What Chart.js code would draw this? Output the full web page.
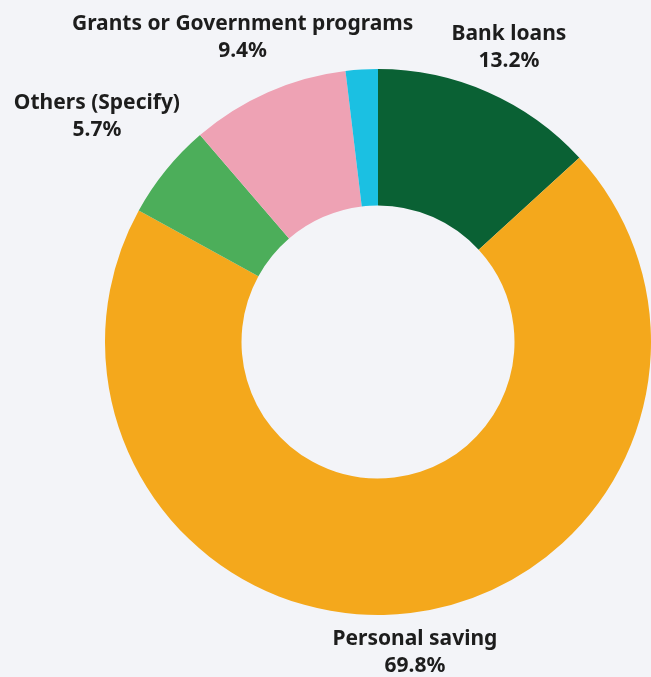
<!DOCTYPE html>
<html>
<head>
<meta charset="utf-8">
<title>Funding sources</title>
<script src="https://cdn.jsdelivr.net/npm/chart.js@4.4.1/dist/chart.umd.min.js"></script>
<style>
  html, body { margin: 0; padding: 0; background: #f3f4f8; }
  #wrap { width: 651px; height: 677px; }
</style>
</head>
<body>
<div id="wrap"><canvas id="fundingChart" width="651" height="677"></canvas></div>
<script>
// funding sources, percent of respondents (clockwise from 12 o'clock)
const sources = ['Bank loans', 'Personal saving', 'Others (Specify)', 'Grants or Government programs', ''];
const shares = [13.2, 69.8, 5.7, 9.4, 1.9];
const sliceColors = ['#0a6134', '#f4a81c', '#4cae5a', '#eea2b4', '#1bc0e2'];

const LABEL_FONT = 'bold 21px "Noto Sans", "Liberation Sans", sans-serif';
const LINE_GAP = 27;

// puts "name / value%" outside each slice, pushed out until the text block clears the ring
const outsideLabels = {
    id: 'outsideLabels',
    afterDatasetsDraw(chart) {
        const ctx = chart.ctx;
        const arcs = chart.getDatasetMeta(0).data;
        ctx.save();
        ctx.font = LABEL_FONT;
        ctx.fillStyle = '#1d1d1d';
        ctx.textAlign = 'center';
        ctx.textBaseline = 'middle';

        arcs.forEach((arc, i) => {
            const name = chart.data.labels[i];
            if (!name) return;
            const lines = [name, shares[i].toFixed(1) + '%'];
            const halfW = Math.max(...lines.map(t => ctx.measureText(t).width)) / 2;
            const halfH = 22;
            const mid = (arc.startAngle + arc.endAngle) / 2;
            const dx = Math.cos(mid), dy = Math.sin(mid);
            const clear = arc.outerRadius + 12;

            let r = arc.outerRadius;
            for (; r < arc.outerRadius + 200; r++) {
                const cx = dx * r, cy = dy * r;
                const nx = Math.max(Math.abs(cx) - halfW, 0);
                const ny = Math.max(Math.abs(cy) - halfH, 0);
                if (Math.hypot(nx, ny) >= clear) break;
            }
            const px = arc.x + dx * r;
            const py = arc.y + dy * r + 3;
            ctx.fillText(lines[0], px, py - LINE_GAP / 2);
            ctx.fillText(lines[1], px, py + LINE_GAP / 2);
        });
        ctx.restore();
    }
};

new Chart(document.getElementById('fundingChart'), {
    type: 'doughnut',
    data: {
        labels: sources,
        datasets: [{
            data: shares,
            backgroundColor: sliceColors,
            borderWidth: 0,
            hoverOffset: 0
        }]
    },
    options: {
        responsive: false,
        animation: false,
        cutout: '50%',
        layout: {
            padding: { left: 105, right: 0, top: 69, bottom: 62 }
        },
        plugins: {
            legend: { display: false },
            tooltip: { enabled: false }
        }
    },
    plugins: [outsideLabels]
});
</script>
</body>
</html>
